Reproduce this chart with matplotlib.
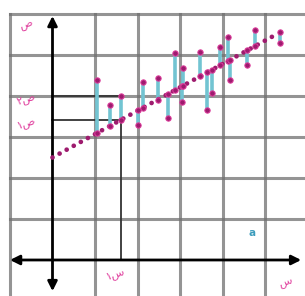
import numpy as np
import matplotlib.pyplot as plt

x_obs = [1.05, 1.35, 1.6, 2.13, 2.01, 2.48, 2.72, 2.88, 3.05, 3.07,
         3.47, 3.64, 3.75, 3.94, 4.13, 4.18, 4.58, 4.76, 5.35]
y_obs = [4.39, 3.78, 4.0, 4.34, 3.29, 4.44, 3.46, 5.05, 3.85, 4.68,
         5.07, 3.66, 4.07, 5.20, 5.44, 4.39, 4.76, 5.61, 5.29]

# fitted line
intercept = 2.5
slope = 0.57
line_x = [0.0, 5.2]

x1 = 1.6          # the marked x value (س١)
y_label_top = "ص٢"
y_label_low = "ص١"

magenta = "#9e1b6e"
pink = "#e0409e"
cyan = "#72c4d2"
grid_c = "#707070"


def visual(s):
    # matplotlib has no bidi: put characters in display order
    return "".join(reversed(s))


fig = plt.figure(figsize=(3.05, 2.96), dpi=100)
ax = fig.add_axes([0, 0, 1, 1])
ax.set_xlim(-1.235, 5.94)
ax.set_ylim(-0.878, 6.34)
ax.axis("off")

# grid
for gx in range(-1, 6):
    if gx != 0:
        ax.plot([gx, gx], [-0.9, 6], color=grid_c, lw=2.2, alpha=0.75, zorder=1)
for gy in range(1, 7):
    ax.plot([-1, 6], [gy, gy], color=grid_c, lw=2.2, alpha=0.75, zorder=1)

# axes with arrows
ax.annotate("", xy=(5.85, 0), xytext=(-1.0, 0),
            arrowprops=dict(arrowstyle="<|-|>", color="black", lw=2,
                            mutation_scale=14, shrinkA=0, shrinkB=0), zorder=3)
ax.annotate("", xy=(0, 5.95), xytext=(0, -0.76),
            arrowprops=dict(arrowstyle="<|-|>", color="black", lw=2,
                            mutation_scale=14, shrinkA=0, shrinkB=0), zorder=3)

# marked value lines
y1_hat = intercept + slope * x1
y1_obs = y_obs[x_obs.index(x1)]
ax.plot([x1, x1], [0, y1_obs], color="#333333", lw=1.3, zorder=2)
ax.plot([0, x1], [y1_obs, y1_obs], color="#333333", lw=1.3, zorder=2)
ax.plot([0, x1], [y1_hat, y1_hat], color="#333333", lw=1.3, zorder=2)

# residuals
xo = np.array(x_obs)
yo = np.array(y_obs)
yh = intercept + slope * xo
ax.vlines(xo, yh, yo, color=cyan, lw=2.6, zorder=4)
ax.scatter(xo, yo, s=15, color=magenta, edgecolor=pink, lw=0.7, zorder=6)
ax.scatter(xo, yh, s=15, color=magenta, edgecolor=pink, lw=0.7, zorder=6)

# dotted fitted line
lx = np.array(line_x)
ax.plot(lx, intercept + slope * lx, color=magenta, lw=3.4,
        linestyle=(0, (0.01, 1.7)), dash_capstyle="round", zorder=5)

# labels
lab = dict(color=pink, fontsize=8, family=["DejaVu Sans"], rotation=18)
ax.text(-0.62, 5.72, "ص", ha="center", va="center", **lab)
ax.text(-0.62, 3.93, visual(y_label_top), ha="center", va="center", **lab)
ax.text(-0.62, 3.33, visual(y_label_low), ha="center", va="center", **lab)
ax.text(1.47, -0.34, visual("س١"), ha="center", va="center", **lab)
ax.text(5.47, -0.55, "س", ha="center", va="center", **lab)
ax.text(4.7, 0.66, "a", color="#3c9cbc", fontsize=7.5, fontweight="bold",
        ha="center", va="center")

fig.savefig("out.png", dpi=100)
